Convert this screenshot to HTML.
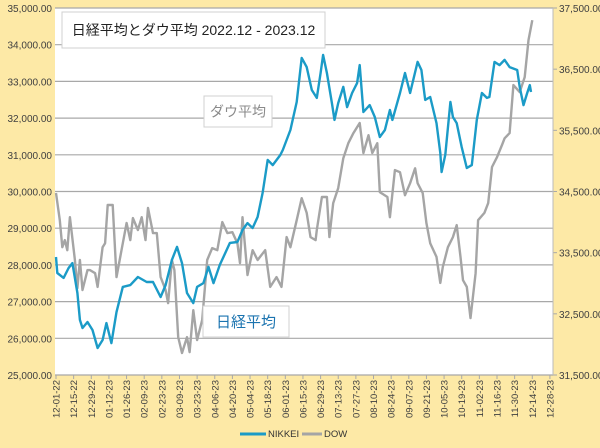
<!DOCTYPE html>
<html><head><meta charset="utf-8"><style>
body{margin:0;background:#fff;}
#wrap{position:relative;width:600px;height:448px;background:#fde9a6;font-family:"Liberation Sans","Noto Sans CJK JP",sans-serif;overflow:hidden;}
svg{position:absolute;left:0;top:0;}
</style></head><body>
<div id="wrap">
<svg id="c" width="600" height="448"></svg>
</div>
<script>
const nikkeiDays=[0,1,6,10,13,17,19,21,25,29,33,37,40,44,48,53,59,65,72,77,83,87,92,96,100,104,109,112,117,121,125,130,138,144,148,152,156,160,164,168,172,178,180,186,191,195,199,203,207,210,212,215,219,221,224,228,231,235,239,241,244,249,253,257,261,265,267,273,277,281,287,290,293,297,302,305,306,309,313,315,318,322,326,330,334,338,342,344,348,352,356,360,366,368,371,374,376,377];
const nikkeiValues=[28215,27780,27645,27915,28050,27235,26500,26280,26445,26225,25735,25955,26415,25870,26715,27400,27450,27670,27535,27535,27125,27450,28135,28490,28050,27235,26960,27400,27505,27945,27505,28000,28600,28625,28950,29140,29005,29305,29960,30860,30720,30995,31130,31675,32440,33640,33390,32765,32550,33230,33720,33230,32410,31950,32410,32850,32300,32685,32955,33445,32165,32355,32030,31485,31675,32220,31950,32685,33230,32685,33530,33310,32495,32575,31865,31050,30530,31000,32440,32030,31865,31210,30640,30720,31950,32685,32550,32575,33530,33445,33585,33390,33310,32850,32355,32685,32900,32710];
const dowDays=[0,3,5,7,9,11,15,17,19,21,25,27,31,33,37,39,41,45,48,52,56,59,61,65,68,71,73,77,80,83,87,89,92,94,97,100,104,106,109,112,116,120,124,128,132,136,140,144,146,148,152,156,160,166,170,175,179,183,186,191,195,199,202,206,207,211,215,217,220,224,228,232,236,241,244,248,251,255,257,263,265,269,273,277,281,285,287,291,294,297,302,305,307,311,315,318,321,323,326,329,333,335,340,343,346,350,354,356,360,363,368,372,375,378];
const dowValues=[34475,34030,33590,33705,33540,34080,33380,32920,33380,32890,33215,33215,33165,32940,33590,33655,34280,34280,33100,33540,33985,33705,34065,33870,34080,33705,34230,33820,33820,33100,32890,32675,33380,33215,32120,31860,32120,31875,32560,32070,32400,33380,33575,33540,34000,33820,33835,33655,33330,34080,33135,33540,33380,33540,32940,33100,32940,33755,33590,34030,34390,34150,33755,33705,33870,34410,34410,33755,34310,34555,35045,35290,35455,35620,35130,35420,35130,35290,34490,34410,34080,34850,34815,34440,34635,34880,34635,34475,33985,33655,33430,33005,33265,33590,33755,33950,33430,33050,32940,32430,33165,34030,34150,34310,34900,35060,35260,35370,35455,36240,36125,36370,36975,37300];
const leftTicks=[25000,26000,27000,28000,29000,30000,31000,32000,33000,34000,35000];
const rightTicks=[31500,32500,33500,34500,35500,36500,37500];
const xTickLabels=["12-01-22","12-15-22","12-29-22","01-12-23","01-26-23","02-09-23","02-23-23","03-09-23","03-23-23","04-06-23","04-20-23","05-04-23","05-18-23","06-01-23","06-15-23","06-29-23","07-13-23","07-27-23","08-10-23","08-24-23","09-07-23","09-21-23","10-05-23","10-19-23","11-02-23","11-16-23","11-30-23","12-14-23","12-28-23"];

const PL=55,PR=553,PT=8,PB=375;
const xS=d=>56+d*1.26;
const yL=v=>PB-(v-25000)/10000*(PB-PT);
const yR=v=>PB-(v-31500)/6000*(PB-PT);
const svg=document.getElementById('c');
const NS='http://www.w3.org/2000/svg';
function mk(t,a){const e=document.createElementNS(NS,t);for(const k in a)e.setAttribute(k,a[k]);svg.appendChild(e);return e;}

let r=mk('rect',{x:PL,y:PT,width:PR-PL,height:PB-PT,fill:'#fff'});


leftTicks.forEach(v=>{
  const y=yL(v);
  const g=mk('line',{x1:PL,x2:PR,y1:y,y2:y,stroke:'#a8a8a8','stroke-width':1.2});
  
  
  const t=mk('text',{x:52,y:y+4,'text-anchor':'end','font-size':10,fill:'#404040'});
  t.textContent=v.toLocaleString('en-US',{minimumFractionDigits:2});
  
  
});
rightTicks.forEach(v=>{
  const y=yR(v);
  const tk=mk('line',{x1:PR,x2:PR+4,y1:y,y2:y,stroke:'#a8a8a8'});
  
  
  const t=mk('text',{x:PR+6,y:y+4,'font-size':10,fill:'#404040'});
  t.textContent=v.toLocaleString('en-US',{minimumFractionDigits:2});
  
  
});
let ax=mk('line',{x1:PR,x2:PR,y1:PT,y2:PB,stroke:'#bbb'});


xTickLabels.forEach((s,i)=>{
  const x=xS(i*14);
  const tk=mk('line',{x1:x,x2:x,y1:PB,y2:PB+4,stroke:'#a8a8a8'});
  
  
  const t=mk('text',{x:x+3.5,y:PB+5,'text-anchor':'end','font-size':9.5,fill:'#404040',transform:`rotate(-90 ${x+3.5} ${PB+5})`});
  t.textContent=s;
  
  
});
function path(days,vals,ys,col,name){
  const d=days.map((dd,i)=>(i?'L':'M')+xS(dd).toFixed(1)+','+ys(vals[i]).toFixed(1)).join('');
  const p=mk('path',{d:d,fill:'none',stroke:col,'stroke-width':2.4,'stroke-linejoin':'round'});
  
  
}
path(dowDays,dowValues,yR,'#a5a5a5','dow-line');
path(nikkeiDays,nikkeiValues,yL,'#1b9bc7','nikkei-line');

function box(x,y,w,h,txt,col,size,name){
  const b=mk('rect',{x:x,y:y,width:w,height:h,fill:'#fff',stroke:'#d0d0d0'});
  
  
  const t=mk('text',{x:x+w/2,y:y+h/2+size*0.36,'text-anchor':'middle','font-size':size,fill:col});
  t.textContent=txt;
  
  
}
box(62,12,263,36,'日経平均とダウ平均 2022.12 - 2023.12','#222',14,'chart-title');
box(204,96,68,31,'ダウ平均','#8a8a8a',14,'dow-label');
box(203,306,86,31,'日経平均','#1b74b0',15,'nikkei-label');

let l1=mk('line',{x1:240,x2:266,y1:434,y2:434,stroke:'#1b9bc7','stroke-width':3});


let t1=mk('text',{x:268,y:437,'font-size':9.5,fill:'#333'});t1.textContent='NIKKEI';


let l2=mk('line',{x1:302,x2:322,y1:434,y2:434,stroke:'#a5a5a5','stroke-width':3});


let t2=mk('text',{x:324,y:437,'font-size':9.5,fill:'#333'});t2.textContent='DOW';


</script>
</body></html>
